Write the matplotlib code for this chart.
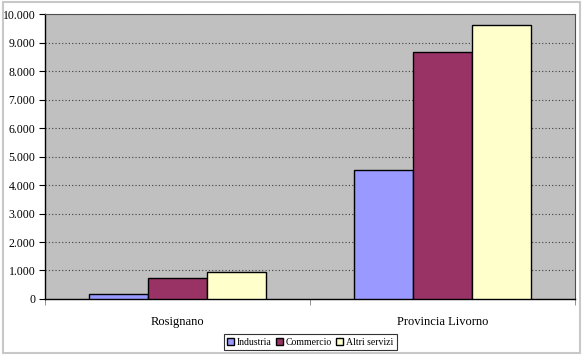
import numpy as np
import matplotlib.pyplot as plt
from matplotlib.patches import Rectangle
from matplotlib.ticker import FuncFormatter, FixedLocator

categories = ["Rosignano", "Provincia Livorno"]
series_names = ["Industria", "Commercio", "Altri servizi"]
industria = [180, 4520]
commercio = [750, 8680]
altri_servizi = [960, 9620]
colors = ["#9999FF", "#993366", "#FFFFCC"]

plt.rcParams['font.family'] = ['Liberation Serif', 'DejaVu Serif']

fig = plt.figure(figsize=(5.84, 3.57), dpi=100)
fig.patches.append(Rectangle((0.005, 0.01), 0.989, 0.983, transform=fig.transFigure,
                             fill=False, edgecolor="#c8c8c8", linewidth=1.5))

ax = fig.add_axes([0.077, 0.1625, 0.908, 0.798])
ax.set_facecolor("#C0C0C0")

x = np.arange(len(categories))
width = 0.222
for i, (vals, name) in enumerate(zip([industria, commercio, altri_servizi], series_names)):
    ax.bar(x + (i - 1) * width, vals, width, color=colors[i], edgecolor="black",
           linewidth=1, label=name, zorder=3)

ax.set_xlim(-0.5, 1.5)
ax.set_ylim(0, 10000)
ax.set_yticks(np.arange(0, 10001, 1000))
ax.yaxis.set_major_formatter(FuncFormatter(lambda v, p: f"{int(v):,}".replace(",", ".")))
ax.grid(axis="y", color="#404040", linestyle=(0, (1, 2)), linewidth=0.8, zorder=1)

ax.set_xticks(x)
ax.set_xticklabels(categories)
ax.xaxis.set_minor_locator(FixedLocator([-0.5, 0.5, 1.5]))
ax.tick_params(axis="x", which="major", length=0, pad=12, labelsize=9)
ax.tick_params(axis="x", which="minor", length=4, color="#808080")
ax.tick_params(axis="y", length=4, pad=3, labelsize=8.5)

for s in ["top", "right"]:
    ax.spines[s].set_color("#505050")
    ax.spines[s].set_linewidth(0.8)
ax.spines["left"].set_linewidth(1)
ax.spines["bottom"].set_linewidth(1)

leg = ax.legend(loc="center", bbox_to_anchor=(0.5, -0.152), ncol=3, fontsize=7,
                frameon=True, fancybox=False, edgecolor="black", handlelength=0.7,
                handleheight=0.7, handletextpad=0.3, columnspacing=0.45,
                borderpad=0.35, borderaxespad=0)
leg.get_frame().set_linewidth(0.8)

fig.savefig("out.png", dpi=100)
